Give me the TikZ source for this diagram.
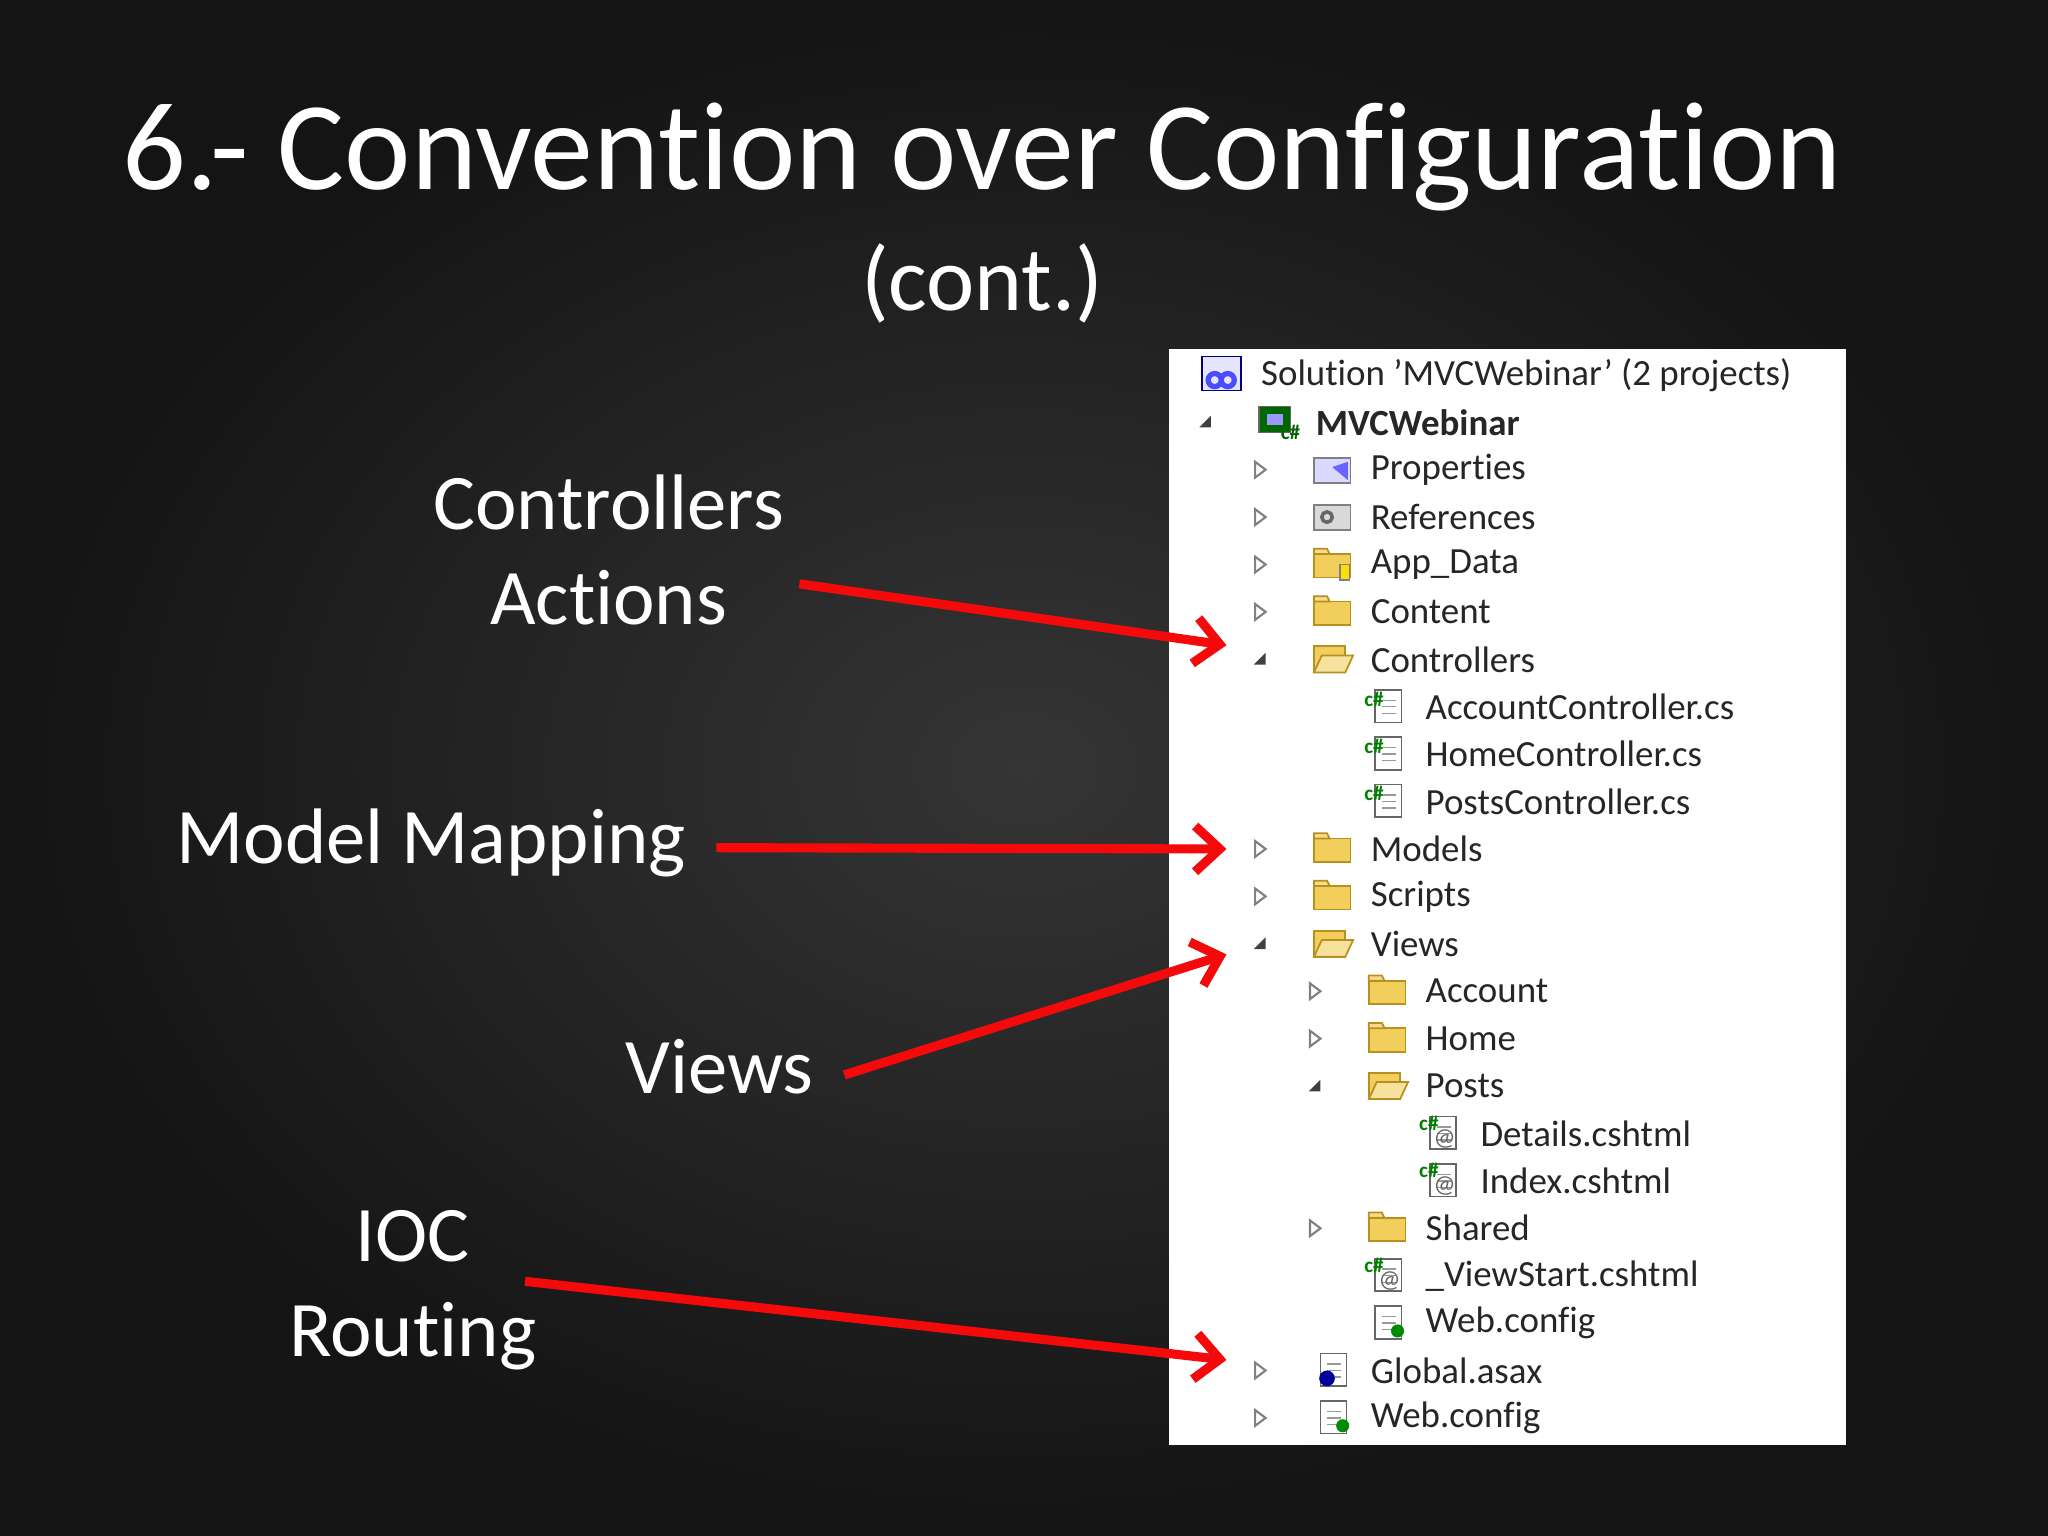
\documentclass[tikz,border=0pt]{standalone}
\usepackage{fontspec}
\setmainfont{Carlito}[Ligatures=NoCommon]
\usetikzlibrary{arrows.meta,positioning}
\definecolor{bgouter}{HTML}{141414}
\definecolor{bginner}{HTML}{353535}
\definecolor{arrowred}{HTML}{F40A0A}
\definecolor{fold}{HTML}{F2CE5C}
\definecolor{folddark}{HTML}{B8901E}
\tikzset{
  slidetext/.style={text=white,font=\fontsize{22.4}{27}\selectfont,align=center},
  rowtext/.style={text=black!85,font=\fontsize{10.5}{12}\selectfont,anchor=west,inner sep=0pt},
  pointer/.style={draw=arrowred,line width=2.6pt,-{Straight Barb[length=7pt,width=13pt,line width=2.6pt]}},
  icofolder/.pic={\fill[fold,draw=folddark,line width=.5pt] (-14,-8) rectangle (14,10);
    \fill[fold!70!white,draw=folddark,line width=.5pt] (-14,-8) -- (-14,-12) -- (-4,-12) -- (-2,-8) -- cycle;},
  icoofolder/.pic={\fill[fold,draw=folddark,line width=.5pt] (-14,-10) rectangle (10,10);
    \fill[fold!60!white,draw=folddark,line width=.5pt] (-14,10) -- (-8,-3) -- (16,-3) -- (10,10) -- cycle;},
  icofile/.pic={\fill[white,draw=black!60,line width=.5pt] (-9,-13) rectangle (11,12);
    \draw[black!40] (-4,-5) -- (7,-5) (-4,0) -- (7,0) (-4,5) -- (7,5);},
  icocs/.pic={\pic{icofile}; \node[text=green!50!black,font=\fontsize{6}{6}\selectfont\bfseries,inner sep=0pt] at (-10,-6) {c\#};},
  icohtml/.pic={\pic{icofile}; \node[text=green!50!black,font=\fontsize{6}{6}\selectfont\bfseries,inner sep=0pt] at (-10,-8) {c\#};
    \node[text=black!60,font=\fontsize{7}{7}\selectfont,inner sep=0pt] at (2,4) {@};},
  icoconfig/.pic={\pic{icofile}; \fill[green!55!black] (8,6) circle (5);},
  icoasax/.pic={\pic{icofile}; \fill[blue!60!black] (-4,6) circle (6);},
  icoprop/.pic={\fill[blue!15,draw=black!50,line width=.5pt] (-14,-9) rectangle (14,10);
    \fill[blue!60] (0,-2) -- (12,-6) -- (12,8) -- cycle;},
  icoref/.pic={\fill[black!15,draw=black!50,line width=.5pt] (-14,-9) rectangle (14,10);
    \draw[black!60,line width=1pt] (-4,0) circle (4);},
  icodata/.pic={\pic{icofolder}; \fill[yellow!80!orange,draw=black!50] (6,0) rectangle (13,12);},
  icosol/.pic={\fill[blue!10,draw=blue!50!black,line width=.5pt] (-16,-14) rectangle (14,12);
    \draw[blue!70,line width=1.5pt] (-6,4) circle (5) (4,4) circle (5);},
  icoproj/.pic={\fill[green!40!black,draw=black!60] (-14,-12) rectangle (10,8);
    \fill[blue!40] (-8,-6) rectangle (4,2);
    \node[text=green!40!black,font=\fontsize{6}{6}\selectfont\bfseries,inner sep=0pt] at (10,8) {c\#};},
}
\begin{document}
\begin{tikzpicture}[x=0.01306cm,y=-0.01306cm]
\useasboundingbox (0,0) rectangle (1568,1176);
\shade[inner color=bginner,outer color=bgouter] (0,0) rectangle (1568,1176);
% title
\node[text=white,font=\fontsize{35.8}{42}\selectfont] (title) at (752,120) {6.- Convention over Configuration};
\node[text=white,font=\fontsize{26}{30}\selectfont] (cont) at (752,217) {(cont.)};
% solution explorer panel
\fill[white] (895,267) rectangle (1413,1106);
\foreach \n/\lv/\ex/\ic/\txt [count=\i] in {
  r1/0/n/icosol/{Solution \symbol{39}MVCWebinar\symbol{39} (2 projects)},
  r2/1/o/icoproj/{\textbf{MVCWebinar}},
  r3/2/c/icoprop/Properties,
  r4/2/c/icoref/References,
  r5/2/c/icodata/App\_Data,
  r6/2/c/icofolder/Content,
  r7/2/o/icoofolder/Controllers,
  r8/3/n/icocs/AccountController.cs,
  r9/3/n/icocs/HomeController.cs,
  r10/3/n/icocs/PostsController.cs,
  r11/2/c/icofolder/Models,
  r12/2/c/icofolder/Scripts,
  r13/2/o/icoofolder/Views,
  r14/3/c/icofolder/Account,
  r15/3/c/icofolder/Home,
  r16/3/o/icoofolder/Posts,
  r17/4/n/icohtml/Details.cshtml,
  r18/4/n/icohtml/Index.cshtml,
  r19/3/c/icofolder/Shared,
  r20/3/n/icohtml/\_ViewStart.cshtml,
  r21/3/n/icoconfig/Web.config,
  r22/2/c/icoasax/Global.asax,
  r23/2/c/icoconfig/Web.config}
{
  \pgfmathsetmacro\ry{287+36.3*(\i-1)}
  \pgfmathsetmacro\rx{923+42*(\lv-1)}
  \node[rowtext] (\n) at (\rx+84,\ry) {\txt};
  \pic at (\rx+55,\ry) {\ic};
  \coordinate (\n e) at (\rx-26,\ry);
  \if\ex c\draw[black!50,line width=.6pt] (\rx-4,\ry-6) -- (\rx+4,\ry) -- (\rx-4,\ry+6) -- cycle;\fi
  \if\ex o\fill[black!75] (\rx+4,\ry-5) -- (\rx+4,\ry+4) -- (\rx-5,\ry+4) -- cycle;\fi
}
% labels
\node[slidetext] (ctrl) at (466,421) {Controllers\\Actions};
\node[slidetext] (model) at (330,645) {Model Mapping};
\node[slidetext] (views) at (551,817) {Views};
\node[slidetext] (ioc) at (316,988) {IOC\\Routing};
% pointers
\draw[pointer] (612,447) -- ([yshift=4pt]r7e);
\draw[pointer] (model.east) ++(14,4) -- (r11e);
\draw[pointer] (views.east) ++(14,6) -- ([yshift=-3pt]r13e);
\draw[pointer] (402,981) -- ([yshift=3pt]r22e);
\end{tikzpicture}
\end{document}
